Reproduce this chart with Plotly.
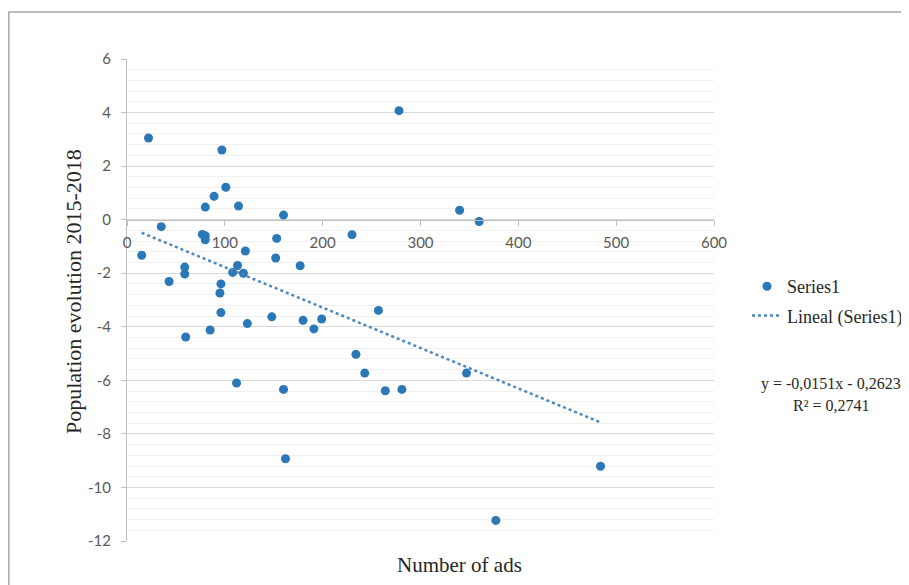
import plotly.graph_objects as go

# Data
ads = [15, 22, 35, 43, 59, 59, 60, 77, 80, 80, 80, 85, 89, 95, 96, 96, 97, 101,
       108, 112, 113, 114, 119, 121, 123, 148, 152, 153, 160, 160, 162, 177, 180,
       191, 199, 230, 234, 243, 257, 264, 278, 281, 340, 347, 360, 377, 484]
pop_evolution = [-1.33, 3.05, -0.26, -2.31, -1.77, -2.03, -4.38, -0.55, -0.60, -0.75,
                 0.47, -4.12, 0.87, -2.74, -2.40, -3.47, 2.60, 1.21, -1.97, -6.10,
                 -1.71, 0.51, -2.00, -1.17, -3.88, -3.63, -1.43, -0.70, 0.17, -6.34,
                 -8.93, -1.72, -3.76, -4.08, -3.71, -0.56, -5.03, -5.73, -3.39, -6.39,
                 4.07, -6.34, 0.35, -5.73, -0.07, -11.23, -9.21]

slope = -0.0151
intercept = -0.2623
r_squared = 0.2741

series_name = "Series1"
trend_name = "Lineal (Series1)"
x_title = "Number of ads"
y_title = "Population evolution 2015-2018"
equation_text = "y = -0,0151x - 0,2623"
r2_text = "R² = 0,2741"

x_ticks = [0, 100, 200, 300, 400, 500, 600]
x_ticktext = ["0", "100", "200", "300", "400", "500", "600"]
y_ticks = [6, 4, 2, 0, -2, -4, -6, -8, -10, -12]
y_ticktext = ["6", "4", "2", "0", "-2", "-4", "-6", "-8", "-10", "-12"]

trend_x = [min(ads), max(ads)]
trend_y = [slope * v + intercept for v in trend_x]

MARKER = "#2a78b8"
TREND = "#4a88bd"
SERIF = "Liberation Serif"
SANS = "Lato"

fig = go.Figure()
fig.add_trace(go.Scatter(
    x=ads, y=pop_evolution, mode="markers", name=series_name,
    marker=dict(color=MARKER, size=9), legendgroup="a"))
fig.add_trace(go.Scatter(
    x=trend_x, y=trend_y, mode="lines", name=trend_name,
    line=dict(color=TREND, width=2.5, dash="dot"), legendgroup="b"))

# The page body adds an 8px margin, so the figure is sized to fit the window
BODY = 8
W, H = 909 - BODY, 585 - BODY
PL, PR, PT, PB = 127, 714, 59, 541          # plot area in screen pixels
L, T = PL - BODY, PT - BODY
pw, ph = PR - PL, PB - PT
R, B = W - L - pw, H - T - ph


def px(xs):
    return (xs - PL) / pw


def py(ys):
    return (PB - ys) / ph


fig.update_layout(
    width=W, height=H,
    margin=dict(l=L, r=R, t=T, b=B, pad=0, autoexpand=False),
    paper_bgcolor="white", plot_bgcolor="white",
    font=dict(family=SERIF, color="#262626"),
    showlegend=True,
    legend=dict(x=px(747), y=py(268), xanchor="left", yanchor="top",
                font=dict(family=SERIF, size=18, color="#262626"),
                bgcolor="rgba(0,0,0,0)", tracegroupgap=3),
    xaxis=dict(range=[0, 600], tickvals=x_ticks, ticktext=x_ticktext,
               showgrid=False, zeroline=False,
               showline=True, linecolor="#bfbfbf", linewidth=1,
               ticks="outside", ticklen=5, tickcolor="#bfbfbf",
               anchor="free", position=2 / 3, ticklabelstandoff=4,
               tickfont=dict(family=SANS, size=15, color="#595959")),
    yaxis=dict(range=[-12, 6], tickvals=y_ticks, ticktext=y_ticktext,
               showgrid=True, gridcolor="#d9d9d9",
               zeroline=False, showline=True, linecolor="#bfbfbf", linewidth=1,
               ticks="outside", ticklen=5, tickcolor="#bfbfbf",
               tickfont=dict(family=SANS, size=15, color="#595959"),
               ticklabelstandoff=7,
               minor=dict(dtick=0.4, tick0=0, showgrid=True, gridcolor="#f0f0f0",
                          gridwidth=1)),
    annotations=[
        dict(text=y_title, x=px(73), y=py(292), xref="paper", yref="paper",
             textangle=-90, showarrow=False, xanchor="center", yanchor="middle",
             font=dict(family=SERIF, size=22, color="#262626")),
        dict(text=x_title, x=px(459), y=py(565), xref="paper", yref="paper",
             showarrow=False, xanchor="center", yanchor="middle",
             font=dict(family=SERIF, size=21, color="#262626")),
        dict(text=equation_text, x=px(831), y=py(384), xref="paper",
             yref="paper", showarrow=False, xanchor="center", yanchor="middle",
             font=dict(family=SERIF, size=16, color="#262626")),
        dict(text=r2_text, x=px(831), y=py(405), xref="paper",
             yref="paper", showarrow=False, xanchor="center", yanchor="middle",
             font=dict(family=SERIF, size=16, color="#262626")),
    ],
    shapes=[
        dict(type="line", xref="paper", yref="paper", x0=px(8.5), x1=px(912),
             y0=py(12), y1=py(12), line=dict(color="#a6a6a6", width=1.5)),
        dict(type="line", xref="paper", yref="paper", x0=px(8.8), x1=px(8.8),
             y0=py(12), y1=py(590), line=dict(color="#a6a6a6", width=1.5)),
    ],
)

fig.write_html("out.html")
